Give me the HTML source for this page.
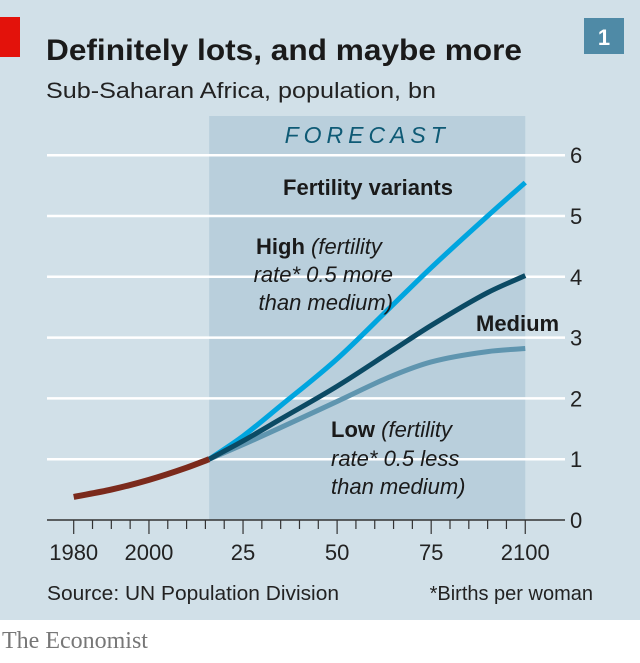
<!DOCTYPE html>
<html><head><meta charset="utf-8"><style>
body{margin:0;width:640px;height:658px;background:#fff;overflow:hidden}
svg text{font-family:"Liberation Sans Narrow","Liberation Sans",sans-serif}
</style></head><body>
<svg width="640" height="658" id="c">
<rect x="0" y="0" width="640" height="620" fill="#d1e0e8"/>
<rect x="0" y="17" width="20" height="40" fill="#e3120b"/>
<text x="46" y="60" font-size="30" font-weight="bold" fill="#1a1a1a" textLength="476" lengthAdjust="spacingAndGlyphs">Definitely lots, and maybe more</text>
<text x="46" y="98" font-size="22" fill="#222" textLength="390" lengthAdjust="spacingAndGlyphs">Sub-Saharan Africa, population, bn</text>
<rect x="584" y="18" width="40" height="36" fill="#4f8aa6"/>
<text x="604" y="45" font-size="22" font-weight="bold" fill="#fff" text-anchor="middle">1</text>
<g id="plot"></g>
<text x="47" y="600" font-size="20" fill="#222" textLength="292" lengthAdjust="spacingAndGlyphs">Source: UN Population Division</text>
<text x="593" y="600" font-size="20" fill="#222" text-anchor="end">*Births per woman</text>
<text x="2" y="648" font-size="24" fill="#777" style="font-family:'Liberation Serif',serif">The Economist</text>
</svg>
<script>
const histYears=[1980,1990,2000,2010,2016];
const histVals=[0.38,0.5,0.66,0.86,1.0];
const fYears=[2016,2025,2035,2050,2065,2075,2090,2100];
const highVals=[1.0,1.38,1.88,2.65,3.55,4.15,5.0,5.55];
const medVals=[1.0,1.3,1.66,2.2,2.8,3.2,3.74,4.02];
const lowVals=[1.0,1.24,1.52,1.95,2.38,2.6,2.77,2.82];
const yTicks=[0,1,2,3,4,5,6];
const xLabels=[[1980,"1980"],[2000,"2000"],[2025,"25"],[2050,"50"],[2075,"75"],[2100,"2100"]];
const forecastStart=2016,forecastEnd=2100;
const NS="http://www.w3.org/2000/svg";
const X=y=>73.7+(y-1980)*3.763;
const Y=v=>520-v*60.8;
const g=document.getElementById('plot');
function mk(t,a){const e=document.createElementNS(NS,t);for(const k in a)e.setAttribute(k,a[k]);g.appendChild(e);return e;}
let sh=mk('rect',{x:X(forecastStart),y:116,width:X(forecastEnd)-X(forecastStart),height:Y(0)-116,fill:'#b9cfdc'});


let ft=mk('text',{x:(X(forecastStart)+X(forecastEnd))/2,y:143,'font-size':23,'font-style':'italic',fill:'#0e5a75','text-anchor':'middle','letter-spacing':'5'});ft.textContent='FORECAST';


yTicks.forEach(v=>{
 if(v>0){let l=mk('line',{x1:47,x2:565,y1:Y(v),y2:Y(v),stroke:'#fff','stroke-width':2.5});
 
 }
 let t=mk('text',{x:570,y:Y(v)+8,'font-size':22,fill:'#222'});t.textContent=v;
 
 
});
let ax=mk('line',{x1:47,x2:565,y1:Y(0),y2:Y(0),stroke:'#333','stroke-width':1.5});


for(let yr=1980;yr<=2100;yr+=5){
 const major=xLabels.some(d=>d[0]===yr);
 let tk=mk('line',{x1:X(yr),x2:X(yr),y1:Y(0),y2:Y(0)+(major?14:9),stroke:'#333','stroke-width':1.2});
 
 
}
xLabels.forEach(d=>{let t=mk('text',{x:X(d[0]),y:560,'font-size':22,fill:'#222','text-anchor':'middle'});t.textContent=d[1];
 
 });
function curve(xs,vs){
 const p=xs.map((x,i)=>[X(x),Y(vs[i])]);const n=p.length;
 const s=[];for(let i=0;i<n-1;i++)s.push((p[i+1][1]-p[i][1])/(p[i+1][0]-p[i][0]));
 const m=p.map((_,i)=>i===0?s[0]:i===n-1?s[n-2]:(s[i-1]+s[i])/2);
 let d='M'+p[0];
 for(let i=0;i<n-1;i++){const dx=(p[i+1][0]-p[i][0])/3;
  d+=' C'+(p[i][0]+dx)+','+(p[i][1]+m[i]*dx)+' '+(p[i+1][0]-dx)+','+(p[i+1][1]-m[i+1]*dx)+' '+p[i+1];}
 return d;}
function line(xs,vs,c,n,w){let p=mk('path',{d:curve(xs,vs),fill:'none',stroke:c,'stroke-width':w||5,'stroke-linecap':'butt'});
 
 }
line(fYears,lowVals,'#5f95af','low-variant-line');
line(fYears,highVals,'#00a5df','high-variant-line');
line(fYears,medVals,'#0b4a64','medium-variant-line');
line(histYears,histVals,'#7b2a1c','historical-line',6);
function txt(x,y,s,n,opt){let t=mk('text',Object.assign({x:x,y:y,'font-size':22,fill:'#1a1a1a'},opt||{}));t.innerHTML=s;
 
 }
txt(368,195,'Fertility variants','legend-title',{'font-weight':'bold','text-anchor':'middle'});
txt(256,254,'<tspan font-weight="bold">High</tspan> <tspan font-style="italic">(fertility</tspan>','high-label');
txt(393,282,'rate* 0.5 more','high-label-line2',{'font-style':'italic','text-anchor':'end'});
txt(393,310,'than medium)','high-label-line3',{'font-style':'italic','text-anchor':'end'});
txt(476,331,'Medium','medium-label',{'font-weight':'bold'});
txt(331,437,'<tspan font-weight="bold">Low</tspan> <tspan font-style="italic">(fertility</tspan>','low-label');
txt(331,466,'rate* 0.5 less','low-label-line2',{'font-style':'italic'});
txt(331,494,'than medium)','low-label-line3',{'font-style':'italic'});
</script>
</body></html>
